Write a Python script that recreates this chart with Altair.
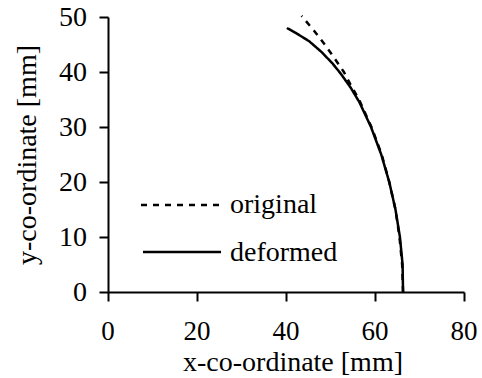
import altair as alt
import pandas as pd

# original (dashed) contour
orig_x = [66.3, 66.1, 65.5, 64.6, 63.2, 61.5, 59.2, 56.4, 54.5, 53.0, 50.9, 48.7, 46.3, 43.5]
orig_y = [0, 5, 10, 15, 20, 25, 30, 35, 37.7, 40, 42.5, 45, 47.5, 50.2]

# deformed (solid) contour
def_x = [66.3, 66.2, 65.6, 64.6, 63.2, 61.4, 59.1, 56.5, 54.5, 52.3, 50.4, 47.9, 45.2, 42.2, 40.2]
def_y = [0, 5, 10, 15, 20, 25, 30, 34.5, 37.2, 39.7, 41.6, 43.7, 45.6, 47.1, 48.0]

series = ["original", "deformed"]
x_ticks = [0, 20, 40, 60, 80]
y_ticks = [0, 10, 20, 30, 40, 50]
x_title = "x-co-ordinate [mm]"
y_title = "y-co-ordinate [mm]"

rows = []
for i, (x, y) in enumerate(zip(orig_x, orig_y)):
    rows.append({"x": x, "y": y, "series": series[0], "order": i})
for i, (x, y) in enumerate(zip(def_x, def_y)):
    rows.append({"x": x, "y": y, "series": series[1], "order": i})
df = pd.DataFrame(rows)

FONT = "Liberation Serif"
FS = 28

xscale = alt.Scale(domain=[0, 80], nice=False)
yscale = alt.Scale(domain=[0, 50], nice=False)
xaxis = alt.Axis(title=None, values=x_ticks, labels=False, grid=False,
                 domainColor="black", domainWidth=2, tickColor="black", tickWidth=2, tickSize=9)
yaxis = alt.Axis(title=None, values=y_ticks, labels=False, grid=False,
                 domainColor="black", domainWidth=2, tickColor="black", tickWidth=2, tickSize=9)

lines = alt.Chart(df).mark_line(color="black", strokeWidth=2.5).encode(
    x=alt.X("x:Q", scale=xscale, axis=xaxis),
    y=alt.Y("y:Q", scale=yscale, axis=yaxis),
    strokeDash=alt.StrokeDash("series:N",
        scale=alt.Scale(domain=series, range=[[6, 6], [1, 0]]), legend=None),
    order="order:Q",
)

xlab = alt.Chart(pd.DataFrame({"x": x_ticks})).mark_text(
    font=FONT, fontSize=27, color="black", align="center", baseline="alphabetic"
).encode(x=alt.X("x:Q", scale=xscale, axis=xaxis), y=alt.value(323), text="x:Q")

ylab = alt.Chart(pd.DataFrame({"y": y_ticks})).mark_text(
    font=FONT, fontSize=FS, color="black", align="right", baseline="middle", dy=1
).encode(y=alt.Y("y:Q", scale=yscale, axis=yaxis), x=alt.value(-21), text="y:Q")

xtit = alt.Chart(pd.DataFrame({"t": [x_title]})).mark_text(
    font=FONT, fontSize=FS, color="black", align="center", baseline="alphabetic"
).encode(x=alt.value(185), y=alt.value(354), text="t:N")

ytit = alt.Chart(pd.DataFrame({"t": [y_title]})).mark_text(
    font=FONT, fontSize=FS, color="black", align="center", baseline="alphabetic", angle=270
).encode(x=alt.value(-72), y=alt.value(138), text="t:N")

# legend
leg_dash = alt.Chart(pd.DataFrame({"s": [series[0]]})).mark_rule(
    color="black", strokeWidth=2.5, strokeDash=[6, 6]
).encode(x=alt.value(33), x2=alt.value(116), y=alt.value(188))
leg_solid = alt.Chart(pd.DataFrame({"s": [series[1]]})).mark_rule(
    color="black", strokeWidth=2.5
).encode(x=alt.value(35), x2=alt.value(113), y=alt.value(235))
leg_t1 = alt.Chart(pd.DataFrame({"t": [series[0]]})).mark_text(
    font=FONT, fontSize=FS, color="black", align="left", baseline="alphabetic"
).encode(x=alt.value(122), y=alt.value(196), text="t:N")
leg_t2 = alt.Chart(pd.DataFrame({"t": [series[1]]})).mark_text(
    font=FONT, fontSize=FS, color="black", align="left", baseline="alphabetic"
).encode(x=alt.value(122), y=alt.value(244), text="t:N")

chart = alt.layer(
    lines, xlab, ylab, xtit, ytit, leg_dash, leg_solid, leg_t1, leg_t2
).properties(
    width=356, height=275,
    autosize="none",
    padding={"left": 108, "top": 17, "right": 18, "bottom": 86},
).configure_view(stroke=None)

chart.save("out.html", embed_options={"renderer": "svg", "actions": False})
